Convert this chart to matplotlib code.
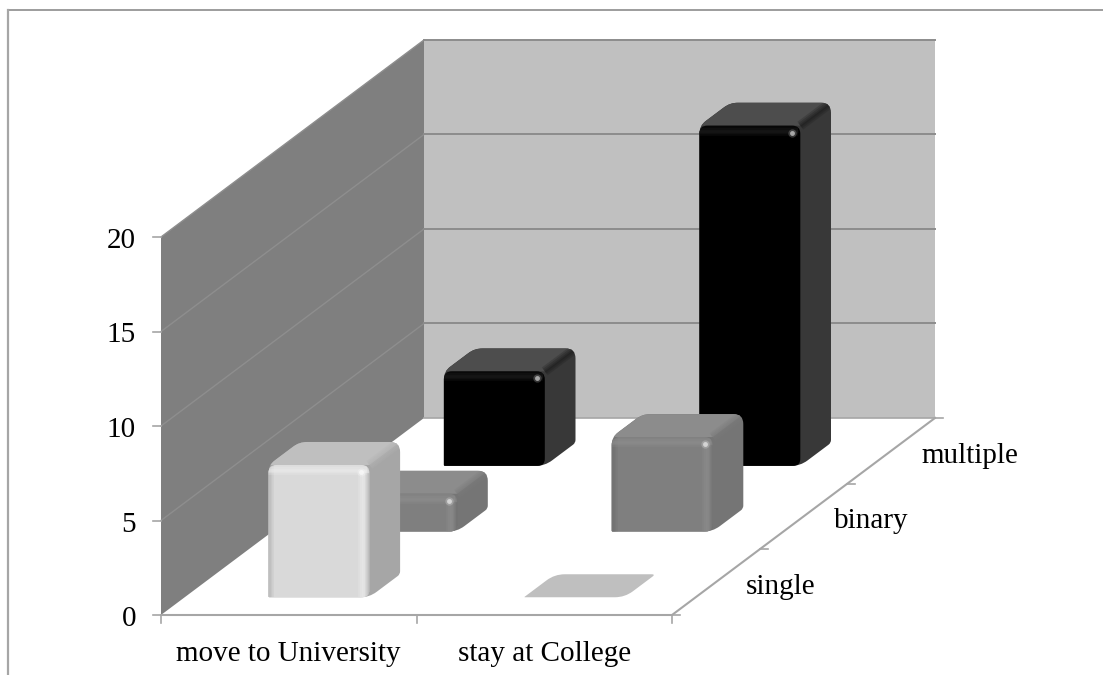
# 3D looking bar chart, oblique projection done by hand on a 2D axes
import numpy as np
import matplotlib
matplotlib.use('Agg')
import matplotlib.pyplot as plt
from matplotlib.path import Path
from matplotlib.patches import PathPatch, Polygon

categories = ['move to University', 'stay at College']
series_names = ['single', 'binary', 'multiple']
move_values = [7, 2, 5]
stay_values = [0, 5, 18]
value_ticks = [0, 5, 10, 15, 20]

# grey per series: front, top, side, bevel light, bevel dark, ridge
front_cols = ['#d9d9d9', '#7f7f7f', '#000000']
top_cols = ['#bfbfbf', '#8c8c8c', '#4d4d4d']
side_cols = ['#a6a6a6', '#757575', '#383838']
glow_cols = ['#eeeeee', '#8f8f8f', '#222222']
dark_cols = ['#a8a8a8', '#6a6a6a', '#000000']
ridge_cols = ['#b2b2b2', '#7c7c7c', '#1c1c1c']

# projection
X0, Y0 = 161, 615
CAT_W = 255.5
DEPTH_X, DEPTH_Y = 87.7, -65.7
UNIT = 18.9

def proj(i, j, v):
    return (X0 + CAT_W * i + DEPTH_X * j, Y0 - UNIT * v + DEPTH_Y * j)

plt.rcParams['font.family'] = ['Liberation Serif', 'DejaVu Serif']
fig = plt.figure(figsize=(11.03, 6.75), dpi=100)
ax = fig.add_axes([0, 0, 1, 1])
ax.set_xlim(0, 1103)
ax.set_ylim(675, 0)
ax.axis('off')

# outer frame, only top and left are in the crop
ax.plot([8, 1103], [9.5, 9.5], color='#8c8c8c', lw=1.2, zorder=1)
ax.plot([8, 8], [9.5, 675], color='#a6a6a6', lw=1.6, zorder=1)

# walls
ax.add_patch(Polygon([proj(0, 0, 0), proj(0, 3, 0), proj(0, 3, 20), proj(0, 0, 20)], fc='#7f7f7f', ec='none', zorder=2))
ax.add_patch(Polygon([proj(0, 3, 0), proj(2, 3, 0), proj(2, 3, 20), proj(0, 3, 20)], fc='#c0c0c0', ec='none', zorder=2))

# grid
for v in value_ticks[1:]:
    a, b, c = proj(0, 0, v), proj(0, 3, v), proj(2, 3, v)
    ax.plot([a[0], b[0]], [a[1], b[1]], color='#8e8e8e', lw=1, zorder=3)
    ax.plot([b[0], c[0]], [b[1], c[1]], color='#8c8c8c', lw=1.4, zorder=3)

# axes lines and ticks
a, b, c = proj(0, 0, 0), proj(2, 0, 0), proj(2, 3, 0)
ax.plot([a[0], b[0], c[0]], [a[1], b[1], c[1]], color='#a6a6a6', lw=1.5, zorder=3)
d = proj(0, 3, 0)
ax.plot([d[0], c[0]], [d[1], c[1]], color='#a6a6a6', lw=1.2, zorder=3)
for v in value_ticks:
    p = proj(0, 0, v)
    ax.plot([p[0] - 8, p[0]], [p[1], p[1]], color='#a6a6a6', lw=1.2, zorder=3)
    ax.text(p[0] - 25, p[1] + 4, str(v), ha='right', va='center', fontsize=21, color='black')
for i in range(3):
    p = proj(i, 0, 0)
    ax.plot([p[0], p[0]], [p[1], p[1] + 8], color='#a6a6a6', lw=1.2, zorder=3)
for j in range(4):
    p = proj(2, j, 0)
    ax.plot([p[0], p[0] + 8], [p[1], p[1]], color='#a6a6a6', lw=1.2, zorder=3)

for i, name in enumerate(categories):
    p = proj(i + 0.5, 0, 0)
    ax.text(p[0], 654, name, ha='center', va='center', fontsize=21, color='black')
for j, name in enumerate(series_names):
    p = proj(2, j + 0.5, 0)
    ax.text(p[0] + 30, p[1] + 5, name, ha='left', va='center', fontsize=21, color='black')

# rounded polygon for the faces
def rounded(pts, r):
    pts = [np.array(p, dtype=float) for p in pts]
    n = len(pts)
    verts, codes = [], []
    for k in range(n):
        p, prev, nxt = pts[k], pts[k - 1], pts[(k + 1) % n]
        rr = r[k]
        s = p + (prev - p) / np.linalg.norm(prev - p) * rr
        e = p + (nxt - p) / np.linalg.norm(nxt - p) * rr
        verts += [s, p, e]
        codes += [Path.LINETO if k else Path.MOVETO, Path.CURVE3, Path.CURVE3]
    verts.append(verts[0])
    codes.append(Path.CLOSEPOLY)
    return Path(verts, codes)

BAR_L, BAR_W = 0.328, 0.395
BAR_F, BAR_D = 0.27, 0.35

def soft_line(xs, ys, col, z, clip, strength=1.0):
    for wd, al in [(7, 0.25), (4.5, 0.3), (2, 0.35)]:
        t = ax.plot(xs, ys, color=col, lw=wd, alpha=al * strength, solid_capstyle='butt', zorder=z)[0]
        t.set_clip_path(clip)

def draw_bar(i, j, v, z):
    l, r = i + BAR_L, i + BAR_L + BAR_W
    f, b = j + BAR_F, j + BAR_F + BAR_D
    if v == 0:
        shape = [proj(l, f, 0), proj(r, f, 0), proj(r, b, 0), proj(l, b, 0)]
        ax.add_patch(PathPatch(rounded(shape, [1, 10, 4, 10]), fc=top_cols[j], ec='none', zorder=z))
        return
    # whole outline in the side colour, top is laid on it and clipped
    outline = [proj(l, f, 0), proj(r, f, 0), proj(r, b, 0), proj(r, b, v), proj(l, b, v), proj(l, f, v)]
    body = PathPatch(rounded(outline, [1, 9, 3, 10, 8, 8]), fc=side_cols[j], ec='none', zorder=z)
    ax.add_patch(body)
    top = Polygon([proj(l, f, v), proj(r, f, v), proj(r, b, v), proj(l, b, v)], fc=top_cols[j], ec='none', zorder=z + 0.05)
    ax.add_patch(top)
    top.set_clip_path(body)
    # ridge where top meets side
    p1, p2 = proj(r, f, v), proj(r, b, v)
    soft_line([p1[0], p2[0]], [p1[1], p2[1]], ridge_cols[j], z + 0.07, body)

    front = [proj(l, f, 0), proj(r, f, 0), proj(r, f, v), proj(l, f, v)]
    patch = PathPatch(rounded(front, [1, 7, 8, 8]), fc=front_cols[j], ec='none', zorder=z + 0.1)
    ax.add_patch(patch)
    x0, y0 = proj(l, f, v)
    x1, y1 = proj(r, f, 0)
    # bevel along left, top and right edges of the front
    if j < 2:
        soft_line([x0 + 1, x0 + 1], [y0, y1], dark_cols[j], z + 0.15, patch, 0.7)
        soft_line([x1 - 1, x1 - 1], [y0 + 8, y1], dark_cols[j], z + 0.15, patch, 0.7)
    soft_line([x0, x1 - 2], [y0 + 5, y0 + 5], glow_cols[j], z + 0.2, patch)
    if j < 2:
        soft_line([x1 - 6, x1 - 6], [y0 + 5, y1], glow_cols[j], z + 0.2, patch)
    ax.plot([x1 - 8], [y0 + 7], 'o', color='white', ms=6, mew=0, alpha=0.2, zorder=z + 0.3)
    ax.plot([x1 - 8], [y0 + 7], 'o', color='white', ms=3.5, mew=0, alpha=0.55, zorder=z + 0.3)

# back row first so nearer bars cover it
z = 5
for j in [2, 1, 0]:
    for i, vals in enumerate([move_values, stay_values]):
        draw_bar(i, j, vals[j], z)
        z += 1

fig.savefig('out.png', dpi=100)
